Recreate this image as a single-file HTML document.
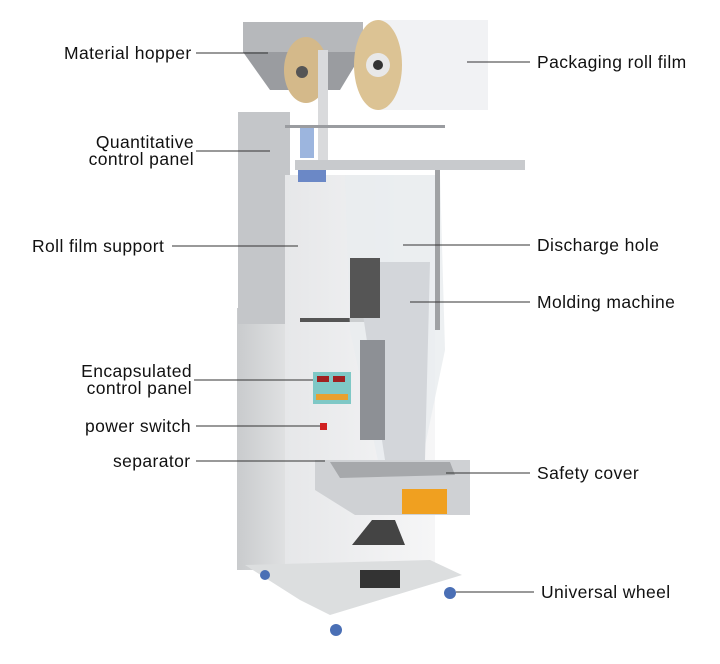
<!DOCTYPE html>
<html><head><meta charset="utf-8"><style>
body{margin:0;width:720px;height:664px;background:#fff;position:relative;overflow:hidden;font-family:"Liberation Sans",sans-serif}
.l{position:absolute;font-size:17.5px;letter-spacing:0.4px;color:#111;white-space:nowrap;line-height:17px}
.r{text-align:right}
</style></head><body>
<svg width="720" height="664" style="position:absolute;left:0;top:0">
<defs>
<linearGradient id="m" x1="0" x2="1"><stop offset="0" stop-color="#c9cbcd"/><stop offset="1" stop-color="#e9eaeb"/></linearGradient>
<linearGradient id="f" x1="0" x2="1"><stop offset="0" stop-color="#e6e7e9"/><stop offset="1" stop-color="#f6f6f7"/></linearGradient>
</defs>
<rect x="237" y="308" width="70" height="262" fill="url(#m)"/>
<rect x="238" y="112" width="52" height="212" fill="#c4c6c9"/>
<rect x="285" y="175" width="150" height="400" fill="url(#f)"/>
<rect x="300" y="318" width="80" height="4" fill="#555"/>
<path d="M345 175 L440 175 L445 350 L420 470 L380 470 L350 330 Z" fill="#e9ecef" opacity=".8"/>
<path d="M355 262 L430 262 L425 460 L385 460 Z" fill="#d3d6da"/>
<rect x="350" y="258" width="30" height="60" fill="#555"/>
<rect x="360" y="340" width="25" height="100" fill="#8d9095"/>
<rect x="243" y="22" width="120" height="30" fill="#b6b8bb"/>
<path d="M243 52 L363 52 L340 90 L270 90 Z" fill="#9a9ca0"/>
<rect x="378" y="20" width="110" height="90" fill="#f1f2f4"/>
<ellipse cx="306" cy="70" rx="22" ry="33" fill="#d4b98a"/>
<ellipse cx="378" cy="65" rx="24" ry="45" fill="#dcc394"/>
<circle cx="378" cy="65" r="12" fill="#e8e8e8"/><circle cx="378" cy="65" r="5" fill="#333"/>
<circle cx="302" cy="72" r="6" fill="#555"/>
<rect x="318" y="50" width="10" height="120" fill="#d9dadc"/>
<rect x="285" y="125" width="160" height="3" fill="#9a9ca0"/>
<rect x="295" y="160" width="230" height="10" fill="#c8cacd"/>
<rect x="435" y="170" width="5" height="160" fill="#a0a2a5"/>
<rect x="298" y="170" width="28" height="12" fill="#6b88c6"/>
<rect x="300" y="128" width="14" height="30" fill="#9cb5de"/>
<rect x="313" y="372" width="38" height="32" fill="#7fc8c6"/>
<rect x="317" y="376" width="12" height="6" fill="#a02020"/><rect x="333" y="376" width="12" height="6" fill="#a02020"/>
<rect x="316" y="394" width="32" height="6" fill="#e8a030"/>
<rect x="320" y="423" width="7" height="7" fill="#d02020"/>
<path d="M315 460 L470 460 L470 515 L355 515 L315 490 Z" fill="#cfd1d4"/>
<path d="M330 462 L450 462 L455 475 L340 478 Z" fill="#a6a8ab"/>
<rect x="402" y="489" width="45" height="25" fill="#f0a020"/>
<path d="M352 545 L372 520 L395 520 L405 545 Z" fill="#444"/>
<path d="M245 565 L430 560 L462 575 L330 615 L300 600 Z" fill="#dcdedf"/>
<rect x="360" y="570" width="40" height="18" fill="#333"/>
<circle cx="265" cy="575" r="5" fill="#4a6fb5"/>
<circle cx="336" cy="630" r="6" fill="#4a6fb5"/>
<circle cx="450" cy="593" r="6" fill="#4a6fb5"/>
<g stroke="#333" stroke-width="1">
<line x1="196" y1="53" x2="268" y2="53"/>
<line x1="196" y1="151" x2="270" y2="151"/>
<line x1="172" y1="246" x2="298" y2="246"/>
<line x1="194" y1="380" x2="313" y2="380"/>
<line x1="196" y1="426" x2="320" y2="426"/>
<line x1="196" y1="461" x2="325" y2="461"/>
<line x1="467" y1="62" x2="530" y2="62"/>
<line x1="403" y1="245" x2="530" y2="245"/>
<line x1="410" y1="302" x2="530" y2="302"/>
<line x1="446" y1="473" x2="530" y2="473"/>
<line x1="456" y1="592" x2="534" y2="592"/>
</g>
</svg>
<div class="l" style="left:64px;top:45px">Material hopper</div>
<div class="l r" style="left:40px;top:134px;width:154px">Quantitative<br>control panel</div>
<div class="l" style="left:32px;top:238px">Roll film support</div>
<div class="l r" style="left:40px;top:363px;width:152px">Encapsulated<br>control panel</div>
<div class="l" style="left:85px;top:418px">power switch</div>
<div class="l" style="left:113px;top:453px">separator</div>
<div class="l" style="left:537px;top:54px">Packaging roll film</div>
<div class="l" style="left:537px;top:237px">Discharge hole</div>
<div class="l" style="left:537px;top:294px">Molding machine</div>
<div class="l" style="left:537px;top:465px">Safety cover</div>
<div class="l" style="left:541px;top:584px">Universal wheel</div>
</body></html>
